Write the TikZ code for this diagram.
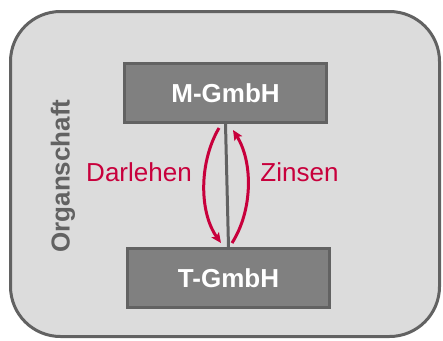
\documentclass[tikz,border=0pt]{standalone}
\usepackage{fontspec}
\setmainfont{Liberation Sans}
\usetikzlibrary{arrows.meta}
\definecolor{bgfill}{HTML}{DCDCDC}
\definecolor{edgegray}{HTML}{626262}
\definecolor{boxgray}{HTML}{808080}
\definecolor{crimson}{HTML}{C8003C}
\begin{document}
\begin{tikzpicture}[x=1pt,y=-1pt,
  company/.style={draw=edgegray,fill=boxgray,line width=3pt,inner sep=0pt,
    minimum width=202pt,minimum height=59pt,text=white,
    font=\fontsize{26}{30}\selectfont\bfseries},
  flowlabel/.style={text=crimson,font=\fontsize{26}{30}\selectfont,inner sep=0pt},
  flow/.style={draw=crimson,line width=3pt,-{Stealth[length=10pt,width=9pt,inset=2pt]}},
  link/.style={draw=edgegray,line width=3pt}]
\useasboundingbox (0,0) rectangle (443,340);
\draw[draw=edgegray,fill=bgfill,line width=3pt,rounded corners=50pt] (10.5,11.5) rectangle (439.5,336.5);
\node[company] (m) at (225.5,93) {M-GmbH};
\node[company] (t) at (228.5,278) {T-GmbH};
\node[rotate=90,text=edgegray,font=\fontsize{26}{30}\selectfont\bfseries,inner sep=0pt] (org) at (63,176) {Organschaft};
\node[flowlabel] (dl) at (139,172) {Darlehen};
\node[flowlabel] (zi) at (299.5,172) {Zinsen};
\draw[link] (m.south) -- (t.north);
\coordinate (d1) at (219,128);
\coordinate (d2) at (221,243);
\coordinate (z1) at (232,243);
\coordinate (z2) at (233,130);
\draw[flow] (d1) .. controls (199,162) and (199,212) .. (d2);
\draw[flow] (z1) .. controls (253,210) and (253,162) .. (z2);
\end{tikzpicture}
\end{document}
